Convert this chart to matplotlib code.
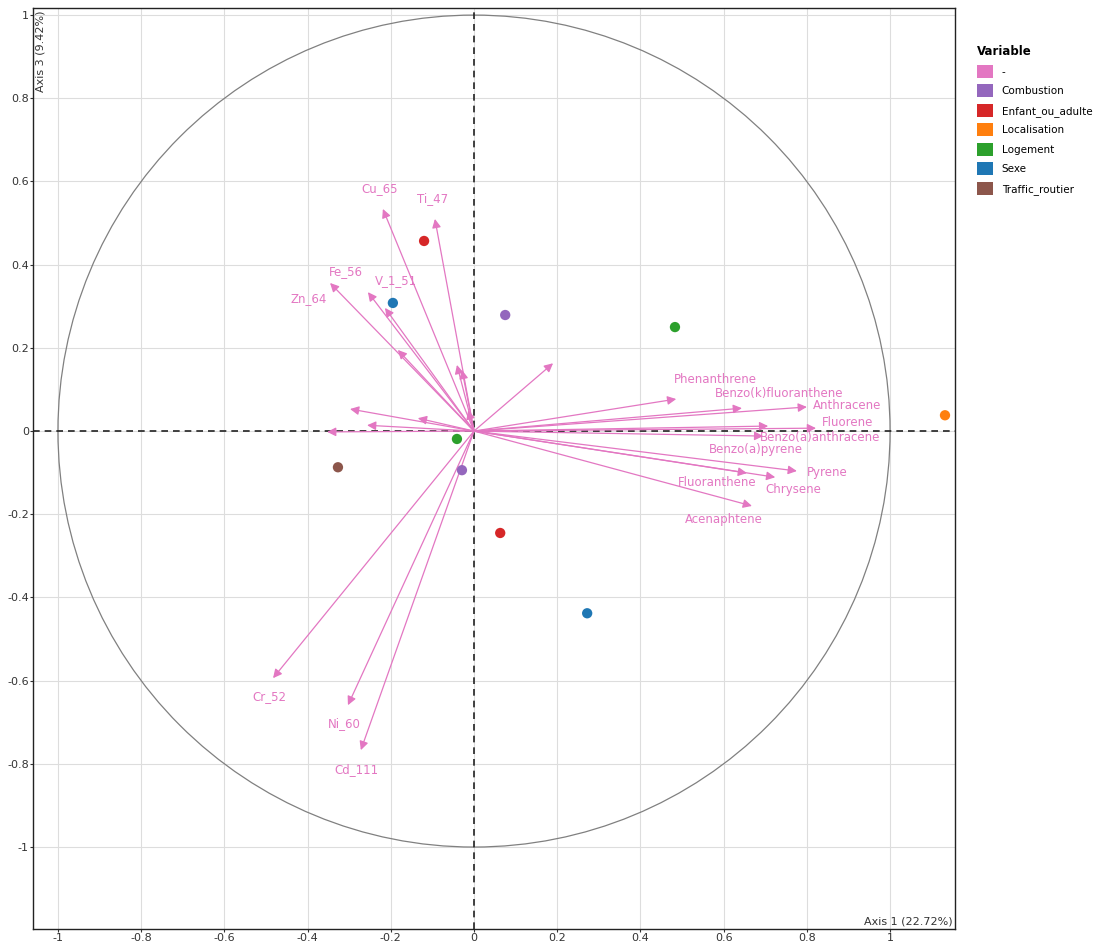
import matplotlib.pyplot as plt
import matplotlib.patches as mpatches
import numpy as np

# variable arrows (coordinates on axis 1 / axis 3)
var_names = ['Cu_65', 'Ti_47', 'Zn_64', 'Fe_56', 'V_1_51', '', '', '', '', '',
             '', '', '', '',
             'Phenanthrene', 'Benzo(k)fluoranthene', 'Anthracene', 'Fluorene',
             'Benzo(a)anthracene', 'Benzo(a)pyrene', 'Pyrene', 'Fluoranthene',
             'Chrysene', 'Acenaphtene', 'Cr_52', 'Ni_60', 'Cd_111']
var_x = [-0.219, -0.094, -0.346, -0.255, -0.214, -0.183, -0.041, -0.029, -0.014, 0.190,
         -0.298, -0.135, -0.257, -0.353,
         0.486, 0.644, 0.800, 0.822, 0.707, 0.695, 0.776, 0.656, 0.724, 0.668,
         -0.483, -0.303, -0.272]
var_y = [0.534, 0.510, 0.356, 0.334, 0.296, 0.195, 0.159, 0.147, 0.050, 0.163,
         0.053, 0.031, 0.014, -0.002,
         0.077, 0.055, 0.058, 0.007, 0.012, -0.012, -0.096, -0.101, -0.111, -0.180,
         -0.594, -0.659, -0.767]

# label offsets in pixels (layout only)
label_offsets = {
    'Cu_65': (-3, 20), 'Ti_47': (-2, 20), 'Zn_64': (-21, -16), 'Fe_56': (-22, 21),
    'V_1_51': (11, 27), 'Phenanthrene': (39, 20), 'Benzo(k)fluoranthene': (37, 15),
    'Anthracene': (40, 1), 'Fluorene': (32, 6), 'Benzo(a)anthracene': (52, -11),
    'Benzo(a)pyrene': (-7, -13), 'Pyrene': (30, -1), 'Fluoranthene': (-30, -9),
    'Chrysene': (18, -12), 'Acenaphtene': (-28, -14), 'Cr_52': (-4, -18),
    'Ni_60': (-4, -18), 'Cd_111': (-4, -19),
}

# supplementary category points
sup_group = ['Enfant_ou_adulte', 'Enfant_ou_adulte', 'Sexe', 'Sexe', 'Combustion', 'Combustion',
             'Logement', 'Logement', 'Localisation', 'Traffic_routier']
sup_x = [-0.120, 0.063, -0.195, 0.272, 0.075, -0.029, 0.483, -0.041, 1.132, -0.327]
sup_y = [0.457, -0.245, 0.308, -0.438, 0.279, -0.094, 0.250, -0.019, 0.038, -0.087]

legend_names = ['-', 'Combustion', 'Enfant_ou_adulte', 'Localisation', 'Logement', 'Sexe', 'Traffic_routier']
legend_colors = ['#e377c2', '#9467bd', '#d62728', '#ff7f0e', '#2ca02c', '#1f77b4', '#8c564b']
colors = dict(zip(legend_names, legend_colors))

fig = plt.figure(figsize=(11.03, 9.44), dpi=100)
ax = fig.add_axes([0.0299, 0.0159, 0.8359, 0.9756])

ticks = [-1, -0.8, -0.6, -0.4, -0.2, 0, 0.2, 0.4, 0.6, 0.8, 1]
ax.set_xticks(ticks)
ax.set_yticks(ticks)
ax.set_xticklabels(['%g' % t for t in ticks])
ax.set_yticklabels(['%g' % t for t in ticks])
ax.tick_params(labelsize=8, colors='#333333', length=2, width=0.8, pad=1)
ax.grid(color='#dddddd', linewidth=0.8)
ax.set_axisbelow(True)
ax.set_xlim(-1.06, 1.156)
ax.set_ylim(-1.197, 1.017)
for s in ax.spines.values():
    s.set_color('#222222')
    s.set_linewidth(1.0)

ax.add_patch(mpatches.Circle((0, 0), 1, fill=False, edgecolor='#808080', linewidth=0.9))
ax.axhline(0, color='#222222', linestyle='--', linewidth=1.2, dashes=(4, 3))
ax.axvline(0, color='#222222', linestyle='--', linewidth=1.2, dashes=(4, 3))

pink = colors['-']
for name, x, y in zip(var_names, var_x, var_y):
    ax.annotate('', xy=(x, y), xytext=(0, 0),
                arrowprops=dict(arrowstyle='-|>', color=pink, lw=0.9,
                                mutation_scale=13, shrinkA=0, shrinkB=0))
    if name:
        dx, dy = label_offsets[name]
        ax.annotate(name, xy=(x, y), xytext=(dx, dy), textcoords='offset pixels',
                    ha='center', va='center', fontsize=8.5, color=pink)

for g, x, y in zip(sup_group, sup_x, sup_y):
    ax.scatter(x, y, s=55, color=colors[g], zorder=5, edgecolors='none')

ax.text(0.997, 0.003, 'Axis 1 (22.72%)', transform=ax.transAxes, ha='right', va='bottom',
        fontsize=8, color='#333333')
ax.text(0.003, 0.997, 'Axis 3 (9.42%)', transform=ax.transAxes, ha='left', va='top',
        rotation=90, fontsize=8, color='#333333')

handles = [mpatches.Patch(facecolor=c, edgecolor='none') for c in legend_colors]
leg = fig.legend(handles, legend_names, title='Variable', loc='upper left',
                 bbox_to_anchor=(0.877, 0.962), frameon=False, fontsize=7.5,
                 handlelength=1.6, handleheight=1.5, labelspacing=0.65, handletextpad=0.8,
                 alignment='left')
leg.get_title().set_fontweight('bold')
leg.get_title().set_fontsize(8.5)

fig.savefig('out.png', dpi=100)
